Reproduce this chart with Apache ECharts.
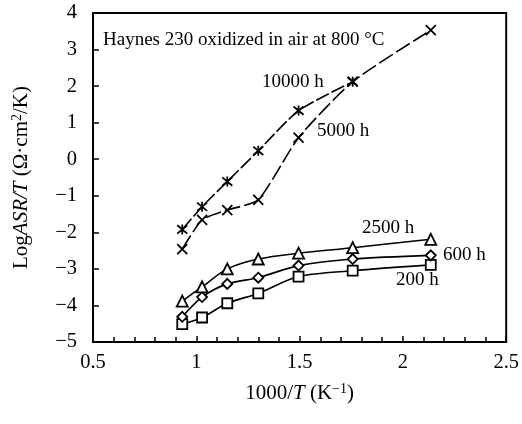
<!DOCTYPE html>
<html><head><meta charset="utf-8">
<script src="https://cdn.jsdelivr.net/npm/echarts@6/dist/echarts.min.js"></script>
<style>html,body{margin:0;padding:0;background:#fff}#c{width:522px;height:424px}</style>
</head><body><div id="c"></div>
<script>
const xValues = [0.932, 1.028, 1.150, 1.300, 1.495, 1.757, 2.135];
const h200   = [-4.51, -4.33, -3.94, -3.67, -3.21, -3.05, -2.89];
const h600   = [-4.31, -3.77, -3.41, -3.24, -2.91, -2.73, -2.63];
const h2500  = [-3.88, -3.49, -3.00, -2.73, -2.57, -2.42, -2.19];
const h5000  = [-2.46, -1.66, -1.39, -1.11, 0.59, 2.12, 3.53];
const h10000 = [-1.92, -1.30, -0.61, 0.23, 1.33, 2.12];
const seriesNames = ['200 h', '600 h', '2500 h', '5000 h', '10000 h'];
const xTicks = [0.5, 1, 1.5, 2, 2.5];

const FONT = '"Liberation Serif", "Times New Roman", serif';
const pairs = (ys) => ys.map((y, i) => [xValues[i], y]);
const asterisk = 'path://M0,0L10,10M10,0L0,10M5,-1L5,11';
const cross = 'path://M0,0L10,10M10,0L0,10';

function mk(name, ys, symbol, size, dash, filled, smooth) {
  return {
    name, type: 'line', data: pairs(ys), smooth: smooth,
    symbol, symbolSize: size, showSymbol: true,
    lineStyle: { color: '#000', width: 1.6, type: dash },
    itemStyle: { color: filled ? 'none' : '#fff', borderColor: '#000', borderWidth: 1.8 },
    emphasis: { disabled: true }, z: 3
  };
}

const TF = 20.5, AF = 21, NF = 19;
const chart = echarts.init(document.getElementById('c'), null, { renderer: 'canvas' });
chart.setOption({
  animation: false,
  backgroundColor: '#fff',
  textStyle: { fontFamily: FONT },
  grid: { left: 93, right: 14, top: 13, bottom: 82, show: true, borderColor: '#000', borderWidth: 2, backgroundColor: 'transparent' },
  xAxis: {
    type: 'value', min: 0.5, max: 2.5, interval: 0.5,
    axisLine: { show: true, onZero: false, lineStyle: { color: '#000', width: 2 } },
    axisTick: { show: true, inside: true, length: 6, lineStyle: { color: '#000', width: 1.5 } },
    minorTick: { show: true, splitNumber: 5, length: 5, lineStyle: { color: '#000', width: 1.5 } },
    splitLine: { show: false },
    axisLabel: { color: '#000', fontSize: TF, fontFamily: FONT, margin: 10,
      formatter: v => xTicks.some(t => Math.abs(t - v) < 1e-6) ? String(+v.toFixed(1)) : '' },
    name: '{n|1000/}{i|T}{n| (K}{s|−1}{n|)}',
    nameLocation: 'middle', nameGap: 40,
    nameTextStyle: { rich: {
      n: { fontSize: AF, fontFamily: FONT, color: '#000' },
      i: { fontSize: AF, fontFamily: FONT, fontStyle: 'italic', color: '#000' },
      s: { fontSize: 14, fontFamily: FONT, color: '#000', verticalAlign: 'top', padding: [0, 0, 8, 0] }
    } }
  },
  yAxis: {
    type: 'value', min: -5, max: 4, interval: 1,
    axisLine: { show: true, onZero: false, lineStyle: { color: '#000', width: 2 } },
    axisTick: { show: true, inside: true, length: 6, lineStyle: { color: '#000', width: 1.5 } },
    splitLine: { show: false },
    axisLabel: { color: '#000', fontSize: TF, fontFamily: FONT, margin: 16,
      formatter: v => String(v).replace('-', '−') },
    name: '{n|Log}{i|ASR/T}{n| (Ω·cm}{s|2}{n|/K)}',
    nameLocation: 'middle', nameGap: 61, nameRotate: 90,
    nameTextStyle: { rich: {
      n: { fontSize: AF, fontFamily: FONT, color: '#000' },
      i: { fontSize: AF, fontFamily: FONT, fontStyle: 'italic', color: '#000' },
      s: { fontSize: 14, fontFamily: FONT, color: '#000', verticalAlign: 'top', padding: [0, 0, 8, 0] }
    } }
  },
  series: [
    mk(seriesNames[0], h200, 'rect', 10, 'solid', false, 0.3),
    mk(seriesNames[1], h600, 'diamond', 10, 'solid', false, 0.3),
    mk(seriesNames[2], h2500, 'triangle', 11, 'solid', false, 0.3),
    mk(seriesNames[3], h5000, cross, 10, [16, 4], true, 0.2),
    mk(seriesNames[4], h10000, asterisk, 10, [14, 3], true, 0.2)
  ],
  graphic: [
    { type: 'text', x: 103, y: 40, style: { text: 'Haynes 230 oxidized in air at 800 °C', fontSize: NF, fontFamily: FONT, fill: '#000', verticalAlign: 'middle' } },
    { type: 'text', x: 262, y: 82, style: { text: seriesNames[4], fontSize: NF, fontFamily: FONT, fill: '#000', verticalAlign: 'middle' } },
    { type: 'text', x: 317, y: 131, style: { text: seriesNames[3], fontSize: NF, fontFamily: FONT, fill: '#000', verticalAlign: 'middle' } },
    { type: 'text', x: 362, y: 228, style: { text: seriesNames[2], fontSize: NF, fontFamily: FONT, fill: '#000', verticalAlign: 'middle' } },
    { type: 'text', x: 443, y: 255, style: { text: seriesNames[1], fontSize: NF, fontFamily: FONT, fill: '#000', verticalAlign: 'middle' } },
    { type: 'text', x: 396, y: 280, style: { text: seriesNames[0], fontSize: NF, fontFamily: FONT, fill: '#000', verticalAlign: 'middle' } }
  ]
});
</script></body></html>
